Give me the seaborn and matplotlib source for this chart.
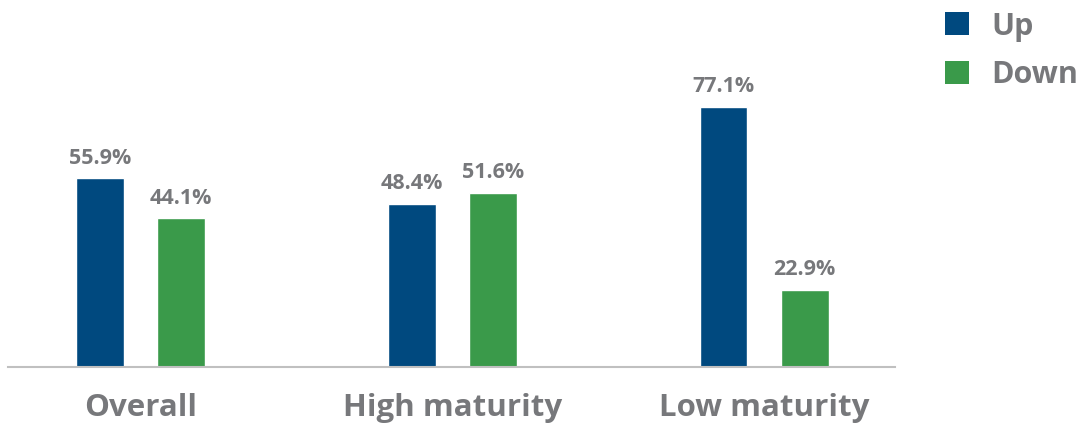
import matplotlib
matplotlib.use("Agg")
import matplotlib.pyplot as plt
import seaborn as sns
import pandas as pd
from matplotlib.patches import Patch

categories = ["Overall", "High maturity", "Low maturity"]
series = ["Up", "Down"]
up_values = [55.9, 48.4, 77.1]
down_values = [44.1, 51.6, 22.9]
colors = {"Up": "#00497f", "Down": "#3a9a4a"}
text_color = "#77787b"

df = pd.DataFrame({
    "category": categories * 2,
    "direction": ["Up"] * 3 + ["Down"] * 3,
    "share": up_values + down_values,
})

sns.set_theme(style="white")
plt.rcParams["font.family"] = ["Open Sans", "DejaVu Sans"]

fig = plt.figure(figsize=(10.88, 4.23), dpi=100)
ax = fig.add_axes([0.00735, 0.1324, 0.8153, 0.8676])

sns.barplot(data=df, x="category", y="share", hue="direction",
            hue_order=series, order=categories, palette=colors,
            width=0.52, gap=0.41, saturation=1, legend=False, ax=ax)

for container in ax.containers:
    ax.bar_label(container, labels=[f"{v:.1f}%" for v in container.datavalues],
                 padding=7, fontsize=15.5, fontweight="bold", color=text_color)

ax.set_xlim(-0.425, 2.42)
ax.set_ylim(0, 108.8)
ax.set_xlabel("")
ax.set_ylabel("")
ax.set_yticks([])
ax.tick_params(axis="x", length=0, pad=19, labelsize=22.5, labelcolor=text_color)
for lbl in ax.get_xticklabels():
    lbl.set_fontweight("bold")
for side in ["top", "right", "left"]:
    ax.spines[side].set_visible(False)
ax.spines["bottom"].set_color("#c0c0c0")
ax.spines["bottom"].set_linewidth(1.5)

handles = [Patch(facecolor=colors[s], edgecolor="none", label=s) for s in series]
leg = fig.legend(handles=handles, loc="upper left", bbox_to_anchor=(0.852, 1.016),
                 frameon=False, fontsize=22, handlelength=0.78, handleheight=0.78,
                 handletextpad=0.72, labelspacing=0.6, borderaxespad=0.2)
for t in leg.get_texts():
    t.set_color(text_color)
    t.set_fontweight("bold")

fig.savefig("out.png", dpi=100)
